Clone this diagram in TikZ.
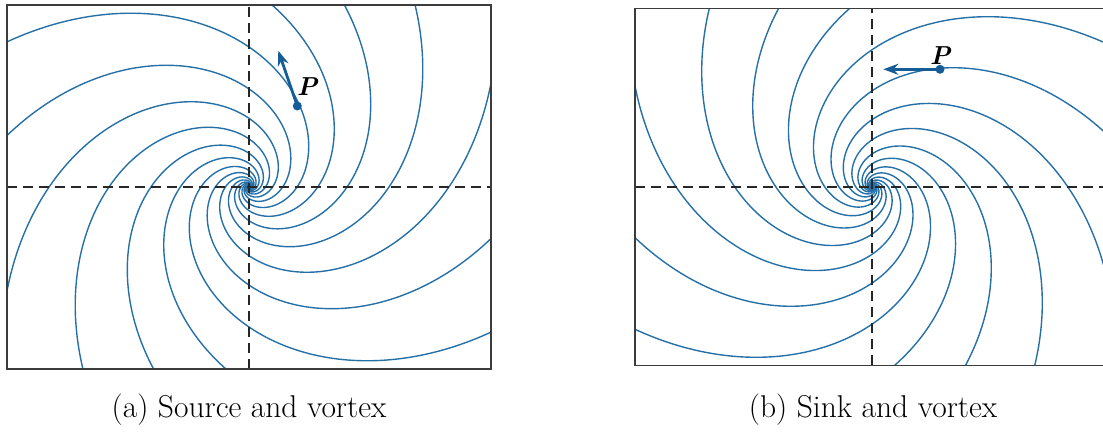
\documentclass[tikz,border=0pt]{standalone}
\usetikzlibrary{arrows.meta}
\definecolor{flow}{RGB}{38,112,168}
\definecolor{flowdark}{RGB}{22,92,150}
\definecolor{framecol}{RGB}{60,60,60}
\tikzset{
  spiralline/.style={flow, line width=1.4pt},
  axisline/.style={black!85, line width=1.4pt, dash pattern=on 10pt off 6pt},
  framebox/.style={framecol, line width=1.6pt},
  vecarrow/.style={flowdark, line width=2.8pt, -{Stealth[length=15pt,width=11pt]}},
  ptdot/.style={circle, fill=flowdark, inner sep=0pt, minimum size=9pt},
  plabel/.style={font=\fontsize{26}{30}\selectfont\bfseries\itshape, inner sep=0pt},
  captext/.style={font=\fontsize{31.5}{38}\selectfont, anchor=base},
}
\newcommand{\spiralfamily}{%
  \foreach \m in {0,...,11}{%
    \draw[spiralline] plot[domain=-400:95, samples=300, smooth, variable=\t]
      ({140*exp(0.011868*\t)*cos(\t+30*\m)}, {140*exp(0.011868*\t)*sin(\t+30*\m)});
  }}
\begin{document}
\begin{tikzpicture}[x=1pt,y=1pt]
\useasboundingbox (0,0) rectangle (1103,433);
% ---------- left panel: source and vortex ----------
\begin{scope}[shift={(249,246)}]
  \begin{scope}
    \clip (-242,-182) rectangle (242,182);
    \spiralfamily
  \end{scope}
  \coordinate (La) at (-242,0);
  \coordinate (Lb) at (242,0);
  \coordinate (Lc) at (0,-182);
  \coordinate (Ld) at (0,182);
  \draw[axisline] (La) -- (Lb);
  \draw[axisline] (Lc) -- (Ld);
  \draw[framebox] (-242,-182) rectangle (242,182);
\end{scope}
\node[ptdot] (Pa) at (297.3,327) {};
\coordinate (Patip) at (278.3,382.3);
\draw[vecarrow] (Pa.center) -- (Patip);
\node[plabel] (PaL) at (307,346) {P};
\node[captext] (capA) at (249,15) {(a) Source and vortex};
% ---------- right panel: sink and vortex ----------
\begin{scope}[shift={(872,246)}, xscale=-0.98, yscale=0.98]
  \begin{scope}
    \clip (-242,-182) rectangle (242,182);
    \spiralfamily
  \end{scope}
  \coordinate (Ra) at (-242,0);
  \coordinate (Rb) at (242,0);
  \coordinate (Rc) at (0,-182);
  \coordinate (Rd) at (0,182);
  \draw[axisline] (Ra) -- (Rb);
  \draw[axisline] (Rc) -- (Rd);
  \draw[framebox] (-242,-182) rectangle (242,182);
\end{scope}
\node[ptdot] (Pb) at (940,363.7) {};
\coordinate (Pbtip) at (883.3,363.7);
\draw[vecarrow] (Pb.center) -- (Pbtip);
\node[plabel] (PbL) at (940,377) {P};
\node[captext] (capB) at (873,15) {(b) Sink and vortex};
\end{tikzpicture}
\end{document}
